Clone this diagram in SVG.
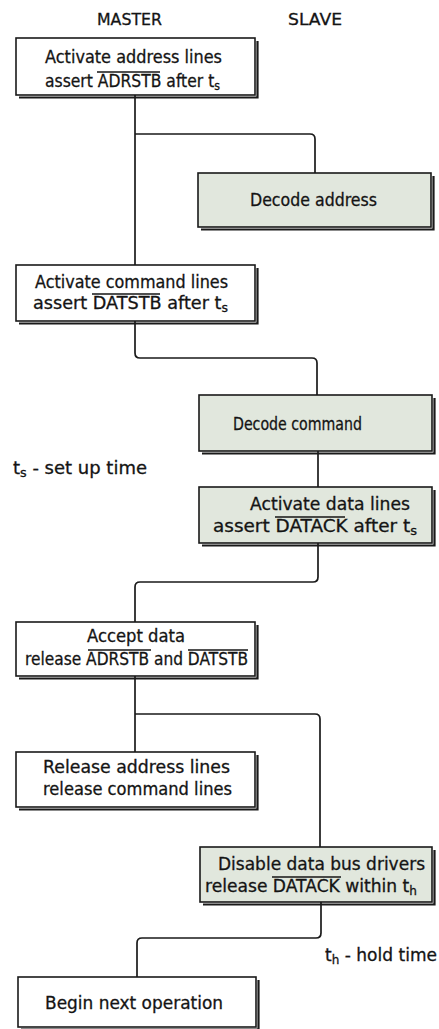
<svg xmlns="http://www.w3.org/2000/svg" width="439" height="1029" viewBox="0 0 439 1029">
  <style>
    .box { fill: #ffffff; stroke: #1a1a1a; stroke-width: 1.6; }
    .slave { fill: #e1e7dd; }
    .shadow { fill: none; stroke: #1a1a1a; stroke-width: 2.2; }
    .wire { fill: none; stroke: #1a1a1a; stroke-width: 1.7; }
    .bar { stroke: #141414; stroke-width: 1.3; }
    text { font-family: "DejaVu Sans", "Liberation Sans", sans-serif; font-size: 17px; fill: #141414; stroke: #141414; stroke-width: 0.3; }
    .head { font-size: 16px; }
    .sub { font-size: 12px; }
  </style>

  <!-- column headings -->
  <text class="head" x="97" y="25" textLength="65" lengthAdjust="spacingAndGlyphs">MASTER</text>
  <text class="head" x="288" y="25" textLength="54" lengthAdjust="spacingAndGlyphs">SLAVE</text>

  <!-- connectors -->
  <g id="connectors">
    <path class="wire" d="M135,95 V265"/>
    <path class="wire" d="M135,134 H310 q5,0 5,5 V173"/>
    <path class="wire" d="M135,321 V353 q0,5 5,5 H312 q5,0 5,5 V395"/>
    <path class="wire" d="M318,451 V487"/>
    <path class="wire" d="M318,543 V577 q0,5 -5,5 H140 q-5,0 -5,5 V622"/>
    <path class="wire" d="M135,676 V752"/>
    <path class="wire" d="M135,714 H315 q5,0 5,5 V847"/>
    <path class="wire" d="M321,902 V933 q0,5 -5,5 H142 q-5,0 -5,5 V977"/>
  </g>

  <!-- master: activate address lines -->
  <g id="m-address">
    <rect class="box" x="16" y="38" width="239" height="57"/>
    <polyline class="shadow" points="19,97.5 257.5,97.5 257.5,41"/>
    <text x="45" y="63" textLength="177" lengthAdjust="spacingAndGlyphs">Activate address lines</text>
    <text x="45" y="87" textLength="175" lengthAdjust="spacingAndGlyphs">assert ADRSTB after t<tspan class="sub" dy="3">s</tspan></text>
    <line class="bar" x1="97" y1="72" x2="160" y2="72"/>
  </g>

  <!-- slave: decode address -->
  <g id="s-address">
    <rect class="box slave" x="198" y="173" width="233" height="54"/>
    <polyline class="shadow" points="201,229.5 433.5,229.5 433.5,176"/>
    <text x="250" y="206" textLength="127" lengthAdjust="spacingAndGlyphs">Decode address</text>
  </g>

  <!-- master: activate command lines -->
  <g id="m-command">
    <rect class="box" x="16" y="265" width="239" height="56"/>
    <polyline class="shadow" points="19,323.5 257.5,323.5 257.5,268"/>
    <text x="35" y="288" textLength="193" lengthAdjust="spacingAndGlyphs">Activate command lines</text>
    <text x="33" y="309" textLength="195" lengthAdjust="spacingAndGlyphs">assert DATSTB after  t<tspan class="sub" dy="3">s</tspan></text>
    <line class="bar" x1="92" y1="294" x2="160" y2="294"/>
  </g>

  <!-- slave: decode command -->
  <g id="s-command">
    <rect class="box slave" x="199" y="395" width="233" height="56"/>
    <polyline class="shadow" points="202,453.5 434.5,453.5 434.5,398"/>
    <text x="233" y="430" textLength="129" lengthAdjust="spacingAndGlyphs">Decode command</text>
  </g>

  <!-- slave: activate data lines -->
  <g id="s-data">
    <rect class="box slave" x="199" y="487" width="233" height="56"/>
    <polyline class="shadow" points="202,545.5 434.5,545.5 434.5,490"/>
    <text x="250" y="510" textLength="160" lengthAdjust="spacingAndGlyphs">Activate data lines</text>
    <text x="213" y="532" textLength="204" lengthAdjust="spacingAndGlyphs">assert DATACK after  t<tspan class="sub" dy="3">s</tspan></text>
    <line class="bar" x1="275" y1="517" x2="345" y2="517"/>
  </g>

  <!-- legend: set up time -->
  <text x="13" y="474" textLength="134" lengthAdjust="spacingAndGlyphs">t<tspan class="sub" dy="3">s</tspan><tspan dy="-3"> - set up time</tspan></text>

  <!-- master: accept data -->
  <g id="m-accept">
    <rect class="box" x="16" y="622" width="239" height="54"/>
    <polyline class="shadow" points="19,678.5 257.5,678.5 257.5,625"/>
    <text x="87" y="642" textLength="98" lengthAdjust="spacingAndGlyphs">Accept data</text>
    <text x="25" y="665" textLength="223" lengthAdjust="spacingAndGlyphs">release ADRSTB and DATSTB</text>
    <line class="bar" x1="88" y1="650" x2="151" y2="650"/>
    <line class="bar" x1="188" y1="650" x2="248" y2="650"/>
  </g>

  <!-- master: release lines -->
  <g id="m-release">
    <rect class="box" x="16" y="752" width="239" height="55"/>
    <polyline class="shadow" points="19,809.5 257.5,809.5 257.5,755"/>
    <text x="43" y="773" textLength="187" lengthAdjust="spacingAndGlyphs">Release address lines</text>
    <text x="43" y="795" textLength="189" lengthAdjust="spacingAndGlyphs">release command lines</text>
  </g>

  <!-- slave: disable data bus drivers -->
  <g id="s-disable">
    <rect class="box slave" x="200" y="847" width="232" height="55"/>
    <polyline class="shadow" points="203,904.5 434.5,904.5 434.5,850"/>
    <text x="218" y="870" textLength="207" lengthAdjust="spacingAndGlyphs">Disable data bus drivers</text>
    <text x="205" y="892" textLength="212" lengthAdjust="spacingAndGlyphs">release DATACK within  t<tspan class="sub" dy="3">h</tspan></text>
    <line class="bar" x1="272" y1="877" x2="341" y2="877"/>
  </g>

  <!-- legend: hold time -->
  <text x="325" y="961" textLength="112" lengthAdjust="spacingAndGlyphs">t<tspan class="sub" dy="3">h</tspan><tspan dy="-3"> - hold time</tspan></text>

  <!-- master: begin next operation -->
  <g id="m-next">
    <rect class="box" x="18" y="977" width="238" height="50"/>
    <polyline class="shadow" points="21,1029.5 258.5,1029.5 258.5,980"/>
    <text x="45" y="1009" textLength="178" lengthAdjust="spacingAndGlyphs">Begin next operation</text>
  </g>
</svg>
